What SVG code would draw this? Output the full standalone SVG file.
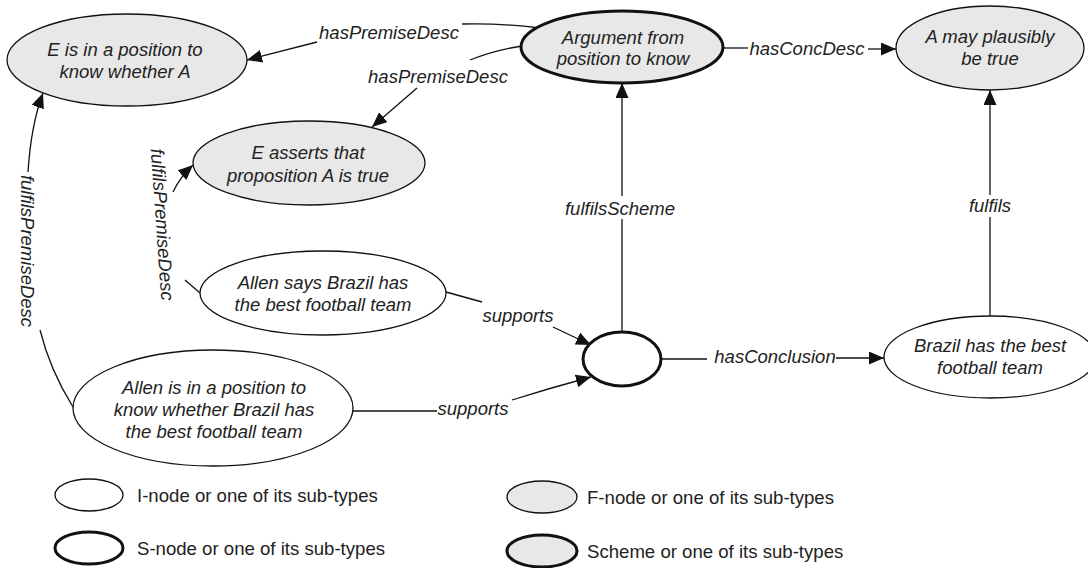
<svg xmlns="http://www.w3.org/2000/svg" width="1088" height="568" viewBox="0 0 1088 568">
<defs>
<marker id="arr" markerUnits="userSpaceOnUse" markerWidth="16" markerHeight="14" refX="15" refY="6.5" orient="auto">
<path d="M0,0 L15,6.5 L0,13 z" fill="#111"/>
</marker>
<style>
.nt{font-family:"Liberation Sans",Arial,sans-serif;font-style:italic;font-size:18.5px;fill:#222;text-anchor:middle}
.el{font-family:"Liberation Sans",Arial,sans-serif;font-style:italic;font-size:18.5px;fill:#222;text-anchor:middle}
.lg{font-family:"Liberation Sans",Arial,sans-serif;font-size:18.6px;fill:#222}
.i{fill:#fff;stroke:#111;stroke-width:1.3}
.f{fill:#e8e8e8;stroke:#111;stroke-width:1.3}
.s{fill:#fff;stroke:#111;stroke-width:3}
.sc{fill:#e8e8e8;stroke:#111;stroke-width:3}
.ln{fill:none;stroke:#111;stroke-width:1.3}
</style>
</defs>
<rect width="1088" height="568" fill="#fff"/>

<g id="connectors">
<!-- hasPremiseDesc top -->
<path class="ln" d="M540,28 Q500,23 462,24"/>
<path class="ln" d="M317,42 L247,60" marker-end="url(#arr)"/>
<text class="el" x="389" y="38.5">hasPremiseDesc</text>
<!-- hasPremiseDesc second -->
<path class="ln" d="M522,46 Q495,50 470,60"/>
<path class="ln" d="M417,88 L372,127" marker-end="url(#arr)"/>
<text class="el" x="438" y="82.5">hasPremiseDesc</text>
<!-- fulfilsPremiseDesc left -->
<path class="ln" d="M73,407 Q50,370 40,330"/>
<path class="ln" d="M28,172 Q31,125 43,93" marker-end="url(#arr)"/>
<text class="el" transform="translate(21,251) rotate(90)" x="0" y="0">fulfilsPremiseDesc</text>
<!-- fulfilsPremiseDesc second -->
<path class="ln" d="M200,293 L185,280"/>
<path class="ln" d="M173,192 Q180,177 193,165" marker-end="url(#arr)"/>
<text class="el" transform="translate(156,225) rotate(86)" x="0" y="0">fulfilsPremiseDesc</text>
<!-- supports 1 -->
<path class="ln" d="M446,292 L482,302"/>
<path class="ln" d="M553,327 L591,345" marker-end="url(#arr)"/>
<text class="el" x="518" y="322">supports</text>
<!-- supports 2 -->
<path class="ln" d="M353,411 L437,411"/>
<path class="ln" d="M512,400 Q550,388 591,377" marker-end="url(#arr)"/>
<text class="el" x="473" y="414.5">supports</text>
<!-- fulfilsScheme -->
<path class="ln" d="M622,332 L622,219"/>
<path class="ln" d="M622,196 L622,83" marker-end="url(#arr)"/>
<text class="el" x="620" y="214.5">fulfilsScheme</text>
<!-- fulfils -->
<path class="ln" d="M990,316 L990,217"/>
<path class="ln" d="M990,195 L990,90" marker-end="url(#arr)"/>
<text class="el" x="990" y="211.5">fulfils</text>
<!-- hasConcDesc -->
<path class="ln" d="M723,48 L748,48"/>
<path class="ln" d="M868,49 L896,49" marker-end="url(#arr)"/>
<text class="el" x="807" y="54.5">hasConcDesc</text>
<!-- hasConclusion -->
<path class="ln" d="M661,359 L707,359"/>
<path class="ln" d="M836,358 L884,358" marker-end="url(#arr)"/>
<text class="el" x="775" y="362.5">hasConclusion</text>
</g>

<g id="n1">
<ellipse class="f" cx="127" cy="60" rx="120" ry="46"/>
<text class="nt" x="125" y="55.5">E is in a position to</text>
<text class="nt" x="125" y="77.5">know whether A</text>
</g>
<g id="n2">
<ellipse class="sc" cx="622" cy="47" rx="101" ry="36"/>
<text class="nt" x="623" y="44">Argument from</text>
<text class="nt" x="623" y="65">position to know</text>
</g>
<g id="n3">
<ellipse class="f" cx="990" cy="48" rx="94" ry="42"/>
<text class="nt" x="990" y="43">A may plausibly</text>
<text class="nt" x="990" y="65">be true</text>
</g>
<g id="n4">
<ellipse class="f" cx="309" cy="163" rx="116" ry="42"/>
<text class="nt" x="308" y="158.5">E asserts that</text>
<text class="nt" x="308" y="181.5">proposition A is true</text>
</g>
<g id="n5">
<ellipse class="i" cx="323" cy="293" rx="123" ry="42"/>
<text class="nt" x="323" y="289">Allen says Brazil has</text>
<text class="nt" x="323" y="311">the best football team</text>
</g>
<g id="n6">
<ellipse class="i" cx="213" cy="408" rx="140" ry="58"/>
<text class="nt" x="214" y="393.5">Allen is in a position to</text>
<text class="nt" x="214" y="415.5">know whether Brazil has</text>
<text class="nt" x="214" y="437.5">the best football team</text>
</g>
<g id="n7">
<ellipse class="s" cx="622" cy="359" rx="39" ry="27"/>
</g>
<g id="n8">
<ellipse class="i" cx="990" cy="357" rx="106" ry="41"/>
<text class="nt" x="990" y="351.5">Brazil has the best</text>
<text class="nt" x="990" y="373.5">football team</text>
</g>

<g id="legend">
<ellipse class="i" cx="89" cy="495" rx="34" ry="16"/>
<text class="lg" x="137" y="501.5">I-node or one of its sub-types</text>
<ellipse class="s" cx="89" cy="548" rx="34" ry="16"/>
<text class="lg" x="137" y="554.5">S-node or one of its sub-types</text>
<ellipse class="f" cx="542" cy="497" rx="35" ry="16"/>
<text class="lg" x="587" y="504">F-node or one of its sub-types</text>
<ellipse class="sc" cx="542" cy="551" rx="35" ry="16"/>
<text class="lg" x="587" y="558">Scheme or one of its sub-types</text>
</g>
</svg>
